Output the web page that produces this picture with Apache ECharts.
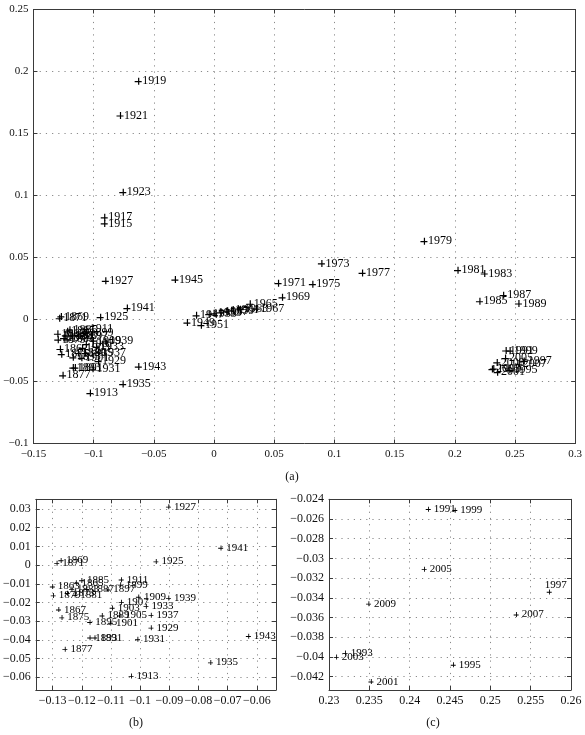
<!DOCTYPE html>
<html><head><meta charset="utf-8">
<script src="https://cdn.jsdelivr.net/npm/echarts@6/dist/echarts.min.js"></script>
<style>html,body{margin:0;padding:0;background:#fff}#c{width:585px;height:735px}</style>
</head><body><div id="c"></div><script>
const years = [1863,1865,1867,1869,1871,1873,1875,1877,1879,1881,1883,1885,1887,1889,1891,1893,1895,1897,1899,1901,1903,1905,1907,1909,1911,1913,1915,1917,1919,1921,1923,1925,1927,1929,1931,1933,1935,1937,1939,1941,1943,1945,1947,1949,1951,1953,1955,1957,1959,1961,1963,1965,1967,1969,1971,1973,1975,1977,1979,1981,1983,1985,1987,1989,1991,1993,1995,1997,1999,2001,2003,2005,2007,2009];
const xValues = [-0.1301,-0.1220,-0.1280,-0.1272,-0.1286,-0.1250,-0.1269,-0.1258,-0.1298,-0.1224,-0.1235,-0.1201,-0.1184,-0.1131,-0.1156,-0.1173,-0.1173,-0.1111,-0.1068,-0.1102,-0.1096,-0.1071,-0.1065,-0.1006,-0.1065,-0.1031,-0.0912,-0.0912,-0.0630,-0.0781,-0.0758,-0.0946,-0.0903,-0.0963,-0.1009,-0.0980,-0.0759,-0.0963,-0.0903,-0.0724,-0.0629,-0.0325,-0.0149,-0.0225,-0.0109,-0.0044,-0.0003,0.0054,0.0102,0.0143,0.0216,0.0297,0.0351,0.0565,0.0532,0.0892,0.0817,0.1230,0.1744,0.2023,0.2245,0.2205,0.2402,0.2529,0.2423,0.2320,0.2454,0.2573,0.2456,0.2352,0.2309,0.2418,0.2532,0.2349];
const yValues = [-0.0115,-0.0095,-0.0238,0.0025,0.0010,-0.0150,-0.0280,-0.0450,-0.0163,-0.0160,-0.0128,-0.0082,-0.0128,-0.0270,-0.0388,-0.0388,-0.0305,-0.0131,-0.0105,-0.0309,-0.0229,-0.0270,-0.0199,-0.0170,-0.0078,-0.0593,0.0775,0.0824,0.1922,0.1645,0.1027,0.0019,0.0312,-0.0335,-0.0397,-0.0220,-0.0521,-0.0268,-0.0176,0.0092,-0.0380,0.0322,0.0034,-0.0025,-0.0046,0.0043,0.0050,0.0058,0.0066,0.0074,0.0083,0.0127,0.0088,0.0179,0.0293,0.0452,0.0285,0.0376,0.0632,0.0398,0.0371,0.0147,0.0196,0.0129,-0.0250,-0.0396,-0.0408,-0.0334,-0.0251,-0.0425,-0.0400,-0.0311,-0.0357,-0.0346];

const ticksAx = [-0.15,-0.1,-0.05,0,0.05,0.1,0.15,0.2,0.25,0.3];
const ticksAy = [-0.1,-0.05,0,0.05,0.1,0.15,0.2,0.25];
const ticksBx = [-0.13,-0.12,-0.11,-0.1,-0.09,-0.08,-0.07,-0.06];
const ticksBy = [-0.06,-0.05,-0.04,-0.03,-0.02,-0.01,0,0.01,0.02,0.03];
const ticksCx = [0.23,0.235,0.24,0.245,0.25,0.255,0.26];
const ticksCy = [-0.042,-0.04,-0.038,-0.036,-0.034,-0.032,-0.03,-0.028,-0.026,-0.024];
const captions = ['(a)','(b)','(c)'];

const FONT = 'Liberation Serif';
const PLUS = 'path://M0,3.4H7V4.6H0Z M3.4,0H4.6V7H3.4Z';
const panels = [
  {grid:{left:28.6, top:9.5, width:554.4, height:434}, xr:[-0.15,0.3], yr:[-0.1,0.25], tx:ticksAx, ty:ticksAy, fs:11, lfs:12, sym:7, dist:0.5, cap:[292,477]},
  {grid:{left:34, top:499.3, width:242, height:190.7}, xr:[-0.13578,-0.05343], yr:[-0.06679,0.03519], tx:ticksBx, ty:ticksBy, fs:12, lfs:11, sym:5, dist:3, cap:[136,723]},
  {grid:{left:329, top:499.3, width:242, height:190.7}, xr:[0.23,0.26], yr:[-0.04335,-0.024], tx:ticksCx, ty:ticksCy, fs:12, lfs:11, sym:5, dist:3, cap:[433,723]}
];
const fmt = v => String(+(+v).toFixed(4)).replace('-', '\u2212');

const grids=[], xAxes=[], yAxes=[], series=[], graphics=[];
panels.forEach((p, i) => {
  grids.push(Object.assign({containLabel:false}, p.grid));
  const lineC = '#3a3a3a';
  const base = (vals, isPrimary, pos, range) => ({
    type:'value', gridIndex:i, position:pos, min:range[0], max:range[1],
    axisLine:{show:true, onZero:false, lineStyle:{color:lineC, width:1}},
    axisTick:{show:true, inside:true, length:4, customValues:vals, lineStyle:{color:lineC}},
    axisLabel:{show:isPrimary, customValues:vals, formatter:fmt, fontFamily:FONT, fontSize:p.fs, color:'#111', margin:5},
    splitLine:{show:isPrimary, lineStyle:{color:'#8a8a8a', width:1, type:[1.2,5]}}
  });
  xAxes.push(base(p.tx, true, 'bottom', p.xr));
  xAxes.push(base(p.tx, false, 'top', p.xr));
  yAxes.push(base(p.ty, true, 'left', p.yr));
  yAxes.push(base(p.ty, false, 'right', p.yr));
  const data = [];
  years.forEach((yr, k) => {
    const x = xValues[k], y = yValues[k];
    if (x >= p.xr[0] && x <= p.xr[1] && y >= p.yr[0] && y <= p.yr[1]) {
      const item = {value:[x, y, yr]};
      if (i === 2 && yr === 1997) item.label = {offset:[-10, -7]};
      data.push(item);
    }
  });
  series.push({
    type:'scatter', xAxisIndex:2*i, yAxisIndex:2*i, data, symbol:PLUS, symbolSize:p.sym,
    itemStyle:{color:'#000', opacity:1}, clip:false, silent:true,
    label:{show:true, position:'right', distance:p.dist, formatter:q => String(q.data.value[2]), fontFamily:FONT, fontSize:p.lfs, color:'#000'},
    emphasis:{disabled:true}
  });
  graphics.push({type:'text', x:p.cap[0], y:p.cap[1], silent:true,
    style:{text:captions[i], align:'center', verticalAlign:'middle', textAlign:'center', textVerticalAlign:'middle', font:'12px "Liberation Serif"', fill:'#111'}});
});

const chart = echarts.init(document.getElementById('c'), null, {renderer:'canvas'});
chart.setOption({animation:false, backgroundColor:'#fff', grid:grids, xAxis:xAxes, yAxis:yAxes, series, graphic:graphics});
</script></body></html>
